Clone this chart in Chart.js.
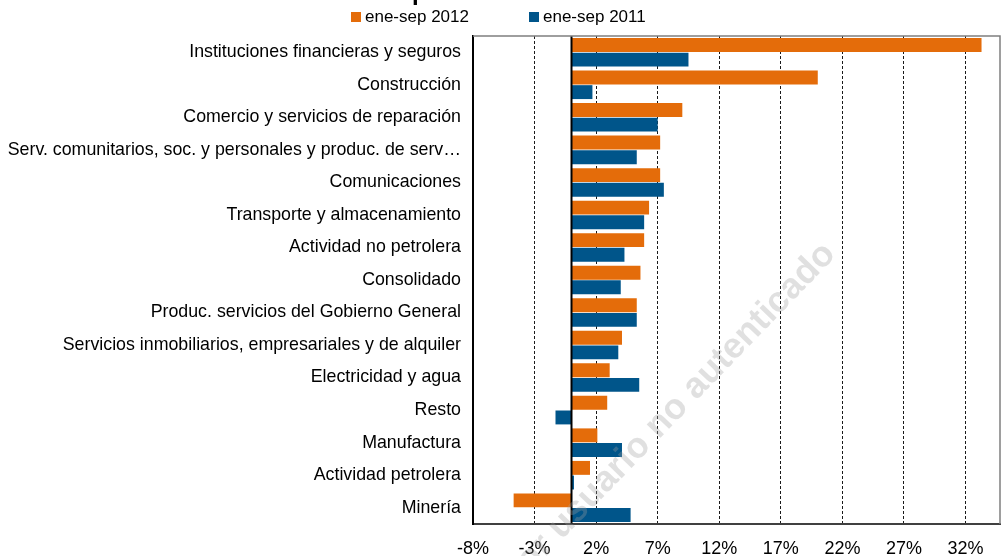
<!DOCTYPE html>
<html>
<head>
<meta charset="utf-8">
<script src="https://cdn.jsdelivr.net/npm/chart.js@4/dist/chart.umd.min.js"></script>
<style>
  body { margin: 0; background: #fff; }
  #wrap { position: relative; width: 1002px; height: 556px; overflow: hidden; }
  .leyenda { position: absolute; top: 7px; font: 17px "Liberation Sans", Arial, sans-serif; color: #000; display: flex; align-items: center; }
  .leyenda i { display: inline-block; width: 10px; height: 10px; margin-right: 4px; }
</style>
</head>
<body>
<div id="wrap">
  <canvas id="graf" width="1002" height="556"></canvas>
  <div class="leyenda" style="left:351px"><i style="background:#e46c0a"></i>ene-sep 2012</div>
  <div class="leyenda" style="left:529px"><i style="background:#00558a"></i>ene-sep 2011</div>
</div>
<script>
const categorias = [
  "Instituciones financieras y seguros",
  "Construcción",
  "Comercio y servicios de reparación",
  "Serv. comunitarios, soc. y personales y produc. de serv…",
  "Comunicaciones",
  "Transporte y almacenamiento",
  "Actividad no petrolera",
  "Consolidado",
  "Produc. servicios del Gobierno General",
  "Servicios inmobiliarios, empresariales y de alquiler",
  "Electricidad y agua",
  "Resto",
  "Manufactura",
  "Actividad petrolera",
  "Minería"
];
const serie2012 = [33.3, 20.0, 9.0, 7.2, 7.2, 6.3, 5.9, 5.6, 5.3, 4.1, 3.1, 2.9, 2.1, 1.5, -4.7];
const serie2011 = [9.5, 1.7, 7.0, 5.3, 7.5, 5.9, 4.3, 4.0, 5.3, 3.8, 5.5, -1.3, 4.1, 0.2, 4.8];
const ticksX = [-8, -3, 2, 7, 12, 17, 22, 27, 32];

const fuente = '"Liberation Sans", Arial, sans-serif';

// titulo (cortado arriba), bordes y marca de agua
const extras = {
  id: "extras",
  afterDraw(chart) {
    const ctx = chart.ctx;
    const area = chart.chartArea;
    ctx.save();
    ctx.strokeStyle = "#7f7f7f";
    ctx.lineWidth = 1.5;
    ctx.beginPath();
    ctx.moveTo(area.left, area.top);
    ctx.lineTo(area.right, area.top);
    ctx.lineTo(area.right, area.bottom);
    ctx.stroke();

    ctx.fillStyle = "#000";
    ctx.font = "bold 24px " + fuente;
    ctx.textAlign = "center";
    ctx.textBaseline = "alphabetic";
    ctx.fillText("Crecimiento por actividad económica", 480, 0);

    // marca de agua
    ctx.font = "bold 36px " + fuente;
    ctx.fillStyle = "rgba(160,160,160,0.32)";
    ctx.translate(692, 391);
    ctx.rotate(-46 * Math.PI / 180);
    const pre = ctx.measureText("por ").width;
    ctx.textBaseline = "middle";
    ctx.fillText("por usuario no autenticado", -pre / 2, 0);
    ctx.restore();
  }
};

new Chart(document.getElementById("graf"), {
  type: "bar",
  data: {
    labels: categorias,
    datasets: [
      { label: "ene-sep 2012", data: serie2012, backgroundColor: "#e46c0a" },
      { label: "ene-sep 2011", data: serie2011, backgroundColor: "#00558a" }
    ]
  },
  options: {
    indexAxis: "y",
    responsive: false,
    animation: false,
    layout: { padding: { top: 36, right: 2, bottom: 0, left: 0 } },
    datasets: { bar: { categoryPercentage: 0.9, barPercentage: 0.95 } },
    plugins: {
      legend: { display: false },
      tooltip: { enabled: false }
    },
    scales: {
      x: {
        min: -8,
        max: 34.8,
        afterBuildTicks: (scale) => { scale.ticks = ticksX.map(v => ({ value: v })); },
        afterFit: (scale) => { scale.height = 32; },
        grid: {
          drawTicks: false,
          color: (c) => c.tick && c.tick.value === -8 ? "rgba(0,0,0,0)" : "#1a1a1a",
          lineWidth: 1
        },
        // en v4 el dash del borde se aplica a las lineas de la grilla
        border: { display: true, color: "#404040", width: 2, dash: [3, 2] },
        ticks: {
          padding: 14,
          color: "#000",
          font: { family: fuente, size: 18 },
          callback: (v) => v + "%"
        }
      },
      y: {
        afterFit: (scale) => { scale.width = 473; },
        grid: { display: false, drawTicks: false },
        border: { display: true, color: "#000", width: 2 },
        ticks: {
          padding: 12,
          color: "#000",
          font: { family: fuente, size: 17.8 }
        }
      }
    }
  },
  plugins: [
    extras,
    {
      id: "cero",
      afterDatasetsDraw(chart) {
        // linea del cero, solida
        const ctx = chart.ctx;
        const x0 = chart.scales.x.getPixelForValue(0);
        ctx.save();
        ctx.strokeStyle = "#000";
        ctx.lineWidth = 2;
        ctx.beginPath();
        ctx.moveTo(x0, chart.chartArea.top);
        ctx.lineTo(x0, chart.chartArea.bottom);
        ctx.stroke();
        ctx.restore();
      }
    }
  ]
});
</script>
</body>
</html>
